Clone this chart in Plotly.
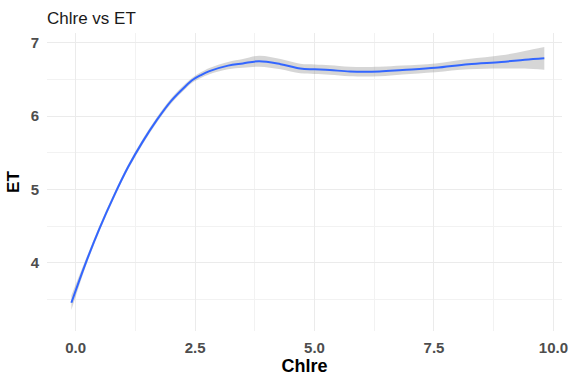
import plotly.graph_objects as go

# Smoothed fit values
chlre = [-0.09, 0.2, 0.5, 0.8, 1.1, 1.4, 1.7, 2.0, 2.3, 2.46, 2.62, 2.8, 3.19, 3.5, 3.84,
         4.29, 4.70, 5.0, 5.32, 5.74, 6.36, 6.84, 7.53, 8.22, 8.91, 9.4, 9.81]
et_fit = [3.455, 3.98, 4.47, 4.91, 5.31, 5.65, 5.95, 6.21, 6.41, 6.50, 6.56, 6.615, 6.69, 6.72, 6.75,
          6.71, 6.65, 6.64, 6.63, 6.61, 6.61, 6.63, 6.66, 6.71, 6.74, 6.77, 6.79]
half_width = [0.10, 0.05, 0.04, 0.035, 0.035, 0.035, 0.035, 0.035, 0.035, 0.035, 0.038, 0.042, 0.05, 0.06, 0.075,
              0.07, 0.065, 0.065, 0.065, 0.065, 0.065, 0.06, 0.06, 0.07, 0.09, 0.12, 0.155]
et_lo = [m - h for m, h in zip(et_fit, half_width)]
et_hi = [m + h for m, h in zip(et_fit, half_width)]

x_ticks = [0.0, 2.5, 5.0, 7.5, 10.0]
x_labels = ["0.0", "2.5", "5.0", "7.5", "10.0"]
y_ticks = [4, 5, 6, 7]
y_labels = ["4", "5", "6", "7"]

fig = go.Figure()
fig.add_trace(go.Scatter(x=chlre, y=et_lo, mode="lines", line=dict(width=0, shape="spline"),
                         hoverinfo="skip", showlegend=False))
fig.add_trace(go.Scatter(x=chlre, y=et_hi, mode="lines", line=dict(width=0, shape="spline"),
                         fill="tonexty", fillcolor="rgba(153,153,153,0.4)",
                         hoverinfo="skip", showlegend=False))
fig.add_trace(go.Scatter(x=chlre, y=et_fit, mode="lines",
                         line=dict(color="#3366FF", width=2, shape="spline"),
                         showlegend=False))

font_family = "Liberation Sans, Arial, sans-serif"
grid = "#EBEBEB"

fig.update_layout(
    width=574, height=379,
    margin=dict(l=47, r=6, t=33, b=45),
    paper_bgcolor="white", plot_bgcolor="white",
    font=dict(family=font_family),
    title=dict(text="Chlre vs ET", x=47 / 574, xanchor="left", xref="container",
               y=1 - 18 / 379, yanchor="middle", yref="container",
               font=dict(size=17, color="#1a1a1a", family=font_family)),
)

fig.update_xaxes(
    range=[-0.6, 10.18], tickvals=x_ticks, ticktext=x_labels,
    showgrid=True, gridcolor=grid, gridwidth=1.2, zeroline=False, showline=False,
    ticks="", ticklabelstandoff=6,
    tickfont=dict(size=15, color="#4D4D4D", family="Liberation Sans, Arial", weight="bold"),
    minor=dict(tickvals=[1.25, 3.75, 6.25, 8.75], showgrid=True, gridcolor="#F2F2F2", gridwidth=0.8),
    title=dict(text="<b>Chlre</b>", standoff=4, font=dict(size=18, color="black", family=font_family)),
)
fig.update_yaxes(
    range=[3.07, 7.135], tickvals=y_ticks, ticktext=y_labels,
    showgrid=True, gridcolor=grid, gridwidth=1.2, zeroline=False, showline=False,
    ticks="", ticklabelstandoff=7,
    tickfont=dict(size=15, color="#4D4D4D", family="Liberation Sans, Arial", weight="bold"),
    minor=dict(tickvals=[3.5, 4.5, 5.5, 6.5], showgrid=True, gridcolor="#F2F2F2", gridwidth=0.8),
    title=dict(text="<b>ET</b>", standoff=6, font=dict(size=17, color="black", family=font_family)),
)

fig.write_html("out.html")
